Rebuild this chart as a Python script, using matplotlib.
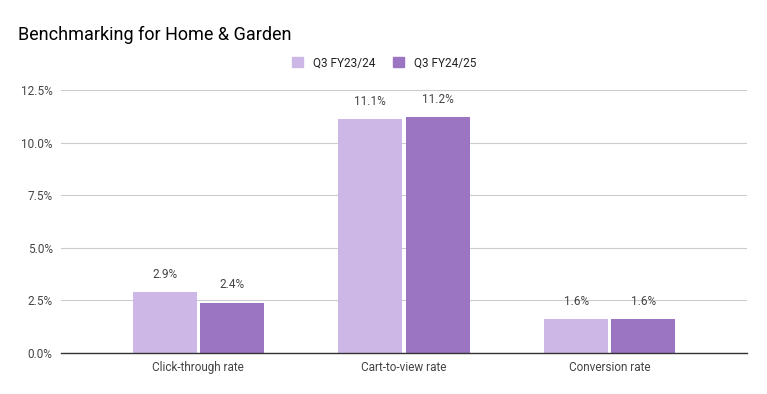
import numpy as np
import matplotlib.pyplot as plt
from matplotlib.patches import Patch

plt.rcParams['font.family'] = ['Roboto', 'DejaVu Sans']

categories = ['Click-through rate', 'Cart-to-view rate', 'Conversion rate']
series_names = ['Q3 FY23/24', 'Q3 FY24/25']
q3_fy2324 = [2.9, 11.1, 1.6]
q3_fy2425 = [2.4, 11.2, 1.6]
colors = ['#cdb7e7', '#9b74c2']

fig = plt.figure(figsize=(7.67, 3.94), dpi=100)
ax = fig.add_axes([61/767, 1 - 353/394, 686/767, 263/394])

x = np.arange(len(categories))
w = 0.311
gap = 0.008
for i, (vals, c) in enumerate(zip([q3_fy2324, q3_fy2425], colors)):
    pos = x + (i - 0.5) * (w + 2 * gap)
    bars = ax.bar(pos, vals, width=w, color=c, zorder=3)
    for b, v in zip(bars, vals):
        ax.annotate(f"{v:.1f}%", (b.get_x() + b.get_width() / 2, v),
                    xytext=(0, 8), textcoords='offset points',
                    ha='center', va='bottom', fontsize=8.5, color='#444444')

ax.set_xlim(-0.667, 2.667)
ax.set_ylim(0, 12.5)
ax.set_yticks([0, 2.5, 5, 7.5, 10, 12.5])
ax.set_yticklabels([f"{t:.1f}%" for t in [0, 2.5, 5, 7.5, 10, 12.5]])
ax.set_xticks(x)
ax.set_xticklabels(categories)
ax.tick_params(length=0, labelsize=8.5, colors='#444444', pad=6)
ax.grid(axis='y', color='#cccccc', lw=0.8, zorder=0)
for s in ['top', 'right', 'left']:
    ax.spines[s].set_visible(False)
ax.spines['bottom'].set_color('#333333')
ax.spines['bottom'].set_linewidth(1)
ax.spines['bottom'].set_zorder(4)

fig.text(18/767, 1 - 35/394, 'Benchmarking for Home & Garden', fontsize=13,
         color='#000000', va='center', ha='left')

handles = [Patch(color=c, label=n) for c, n in zip(colors, series_names)]
fig.legend(handles=handles, loc='center', bbox_to_anchor=(384/767, 1 - 63/394),
           ncol=2, frameon=False, fontsize=8.5, handlelength=0.93, handleheight=0.93,
           columnspacing=1.45, handletextpad=0.85, labelcolor='#222222')

fig.savefig('out.png', dpi=100)
